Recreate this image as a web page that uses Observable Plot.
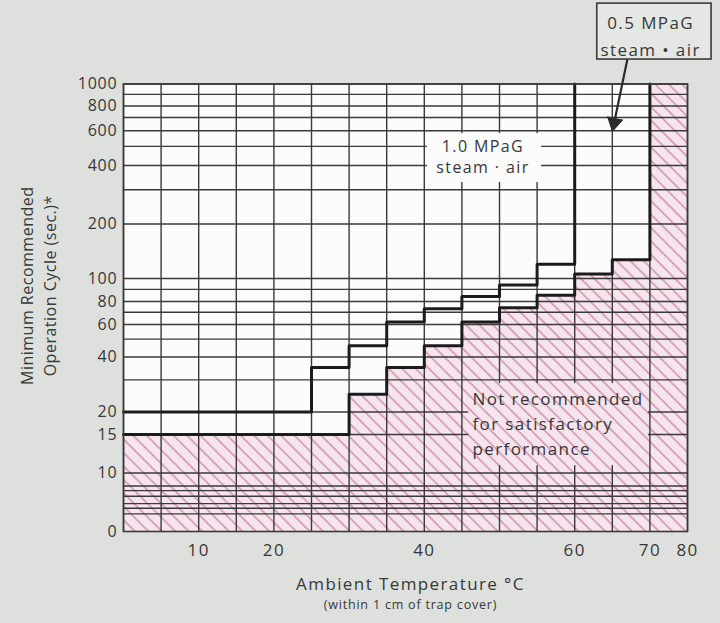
<!DOCTYPE html>
<html>
<head>
<meta charset="utf-8">
<script src="https://cdn.jsdelivr.net/npm/d3@7"></script>
<script src="https://cdn.jsdelivr.net/npm/@observablehq/plot@0.6"></script>
<style>
  html, body { margin: 0; padding: 0; background: #dde0dc; }
  #chart svg text { letter-spacing: 1.4px; }
  #chart svg .lbl-y text { letter-spacing: 0.5px; }
  #chart svg .lbl-small text { letter-spacing: 0.8px; }
  #chart svg .ytick text { letter-spacing: 0.8px; }
</style>
</head>
<body>
<div id="chart"></div>
<script>
// ---------------- data ----------------
// 1.0 MPaG steam/air : minimum cycle (sec.) from each temperature (°C) onward
const upperTemp  = [0, 25, 30, 35, 40, 45, 50, 55, 60];
const upperCycle = [20, 35, 46, 62, 73, 84, 94, 120, 1000];
// 0.5 MPaG steam/air
const lowerTemp  = [0, 30, 35, 40, 45, 50, 55, 60, 65, 70];
const lowerCycle = [15, 25, 35, 46, 62, 74, 85, 106, 127, 1000];
// hatched "not recommended" zone extends to the right edge
const zoneEndTemp = 80;
const zoneEndCycle = 1000;

// grid & ticks
const xGrid = [0, 5, 10, 15, 20, 25, 30, 35, 40, 45, 50, 55, 60, 65, 70, 80];
const xTicks = [10, 20, 40, 60, 70, 80];
const yGrid = [2, 2.5, 3, 4, 5, 6, 10, 15, 20, 30, 40, 50, 60, 70, 80, 90,
               100, 200, 300, 400, 500, 600, 700, 800, 900, 1000];
const Y_ZERO = 1; // bottom of the chart, labelled "0"
const yTickValues = [Y_ZERO, 10, 15, 20, 40, 60, 80, 100, 200, 400, 600, 800, 1000];
const yTickLabels = ["0", "10", "15", "20", "40", "60", "80", "100", "200", "400", "600", "800", "1000"];

const labelUpper = "1.0 MPaG\nsteam · air";
const labelLower = "0.5 MPaG\nsteam • air";
const labelZone = "Not recommended\nfor satisfactory\nperformance";
const yTitle = "Minimum Recommended\nOperation Cycle (sec.)*";
const xTitle = "Ambient Temperature °C";
const xSubtitle = "(within 1 cm of trap cover)";

// ---------------- build tables ----------------
const upper = upperTemp.map((t, i) => ({t, c: upperCycle[i]}));
const lower = lowerTemp.map((t, i) => ({t, c: lowerCycle[i]}));
const zone = [...lower, {t: zoneEndTemp, c: zoneEndCycle}];
const yLabelMap = new Map(yTickValues.map((v, i) => [v, yTickLabels[i]]));

// ---------------- layout ----------------
const W = 720, H = 623;
const L = 123, R = 687, T = 83.5, B = 531;
const colW = (R - L) / 15;
const ink = "#2a2a2a";
const grid = "#3a3a3a";
const paper = "#fbfcfb";
const txt = "#383838";

const svg = Plot.plot({
  width: W,
  height: H,
  marginLeft: L,
  marginRight: W - R,
  marginTop: T,
  marginBottom: H - B,
  style: {fontFamily: "'Open Sans', sans-serif", color: txt, background: "transparent", overflow: "visible"},
  x: {type: "linear", domain: [0, 70, 80], range: [L, L + 14 * colW, R], axis: null, label: null},
  // piecewise log calibration following the printed grid
  y: {type: "log",
      domain: [1, 10, 15, 20, 40, 80, 100, 200, 400, 800, 1000, 10000],
      range: [B, 472.5, 434, 411.5, 356.5, 301, 278, 223.5, 165, 105.5, T, T - 195],
      axis: null, label: null},
  marks: [
    Plot.frame({fill: paper}),
    Plot.areaY(zone, {x: "t", y1: Y_ZERO, y2: "c", curve: "step-after", fill: "url(#hatch)"}),
    Plot.ruleY(yGrid, {stroke: grid, strokeWidth: 1.4}),
    Plot.ruleX(xGrid, {stroke: grid, strokeWidth: 1.4}),
    // knock-out panels behind the in-chart labels
    Plot.rect([0], {x1: 40.4, x2: 55.6, y1: 327, y2: 580, fill: paper}),
    Plot.rect([0], {x1: 45.9, x2: 69.8, y1: 10.8, y2: 28.6, fill: "url(#hatch)"}),
    // step curves
    Plot.line(upper, {x: "t", y: "c", curve: "step-after", stroke: "#1c1c1c", strokeWidth: 3}),
    Plot.line(lower, {x: "t", y: "c", curve: "step-after", stroke: "#1c1c1c", strokeWidth: 3}),
    Plot.frame({stroke: grid, strokeWidth: 1.6}),
    // y tick labels
    Plot.text(yTickValues, {frameAnchor: "left", y: d => d, text: d => yLabelMap.get(d),
      textAnchor: "end", dx: -6, fontSize: 16, fill: txt, className: "ytick"}),
    // x tick labels
    Plot.axisX(xTicks, {tickSize: 0, tickPadding: 12, fontSize: 17, label: null,
      tickFormat: d => String(d)}),
    Plot.text([yTitle], {frameAnchor: "left", rotate: -90, dx: -86, dy: -22, fontSize: 16,
      lineHeight: 1.44, textAnchor: "middle", className: "lbl-y", fill: txt}),
    Plot.text([xTitle], {frameAnchor: "bottom", dx: 5, dy: 58, fontSize: 17, fill: txt}),
    Plot.text([xSubtitle], {frameAnchor: "bottom", dx: 5, dy: 77, fontSize: 12.5, className: "lbl-small", fill: txt}),
    // in-chart labels
    Plot.text([labelUpper], {x: 47.8, y: 447, fontSize: 16, lineHeight: 1.3, fill: txt}),
    Plot.text([labelZone], {x: 46.4, y: 17.6, fontSize: 17, lineHeight: 1.45, textAnchor: "start", fill: txt}),
    // 0.5 MPaG call-out above the chart
    Plot.rect([0], {x1: 63.0, x2: 86.4, y1: 1335, y2: 2583, fill: "#e4e7e3", stroke: "#3a3a3a", strokeWidth: 1.6}),
    Plot.text([labelLower], {x: 70.2, y: 1803, fontSize: 17, lineHeight: 1.55, fill: txt}),
    Plot.link([0], {x1: 67.0, y1: 1335, x2: 65.25, y2: 658, stroke: ink, strokeWidth: 2.2}),
    Plot.dot([0], {x: 65.25, y: 658, symbol: "triangle", r: 5.6, rotate: 191.9, fill: ink, stroke: ink, strokeWidth: 1})
  ]
});

// hatch pattern for the "not recommended" zone
const defs = d3.select(svg).insert("defs", ":first-child");
const pat = defs.append("pattern")
  .attr("id", "hatch")
  .attr("patternUnits", "userSpaceOnUse")
  .attr("width", 9.5).attr("height", 9.5)
  .attr("patternTransform", "rotate(-45)");
pat.append("rect").attr("width", 9.5).attr("height", 9.5).attr("fill", "#f6e5ee");
pat.append("line").attr("x1", 4.75).attr("y1", -1).attr("x2", 4.75).attr("y2", 10.5)
  .attr("stroke", "#c47c9b").attr("stroke-width", 1.2);

document.getElementById("chart").appendChild(svg);
</script>
</body>
</html>
